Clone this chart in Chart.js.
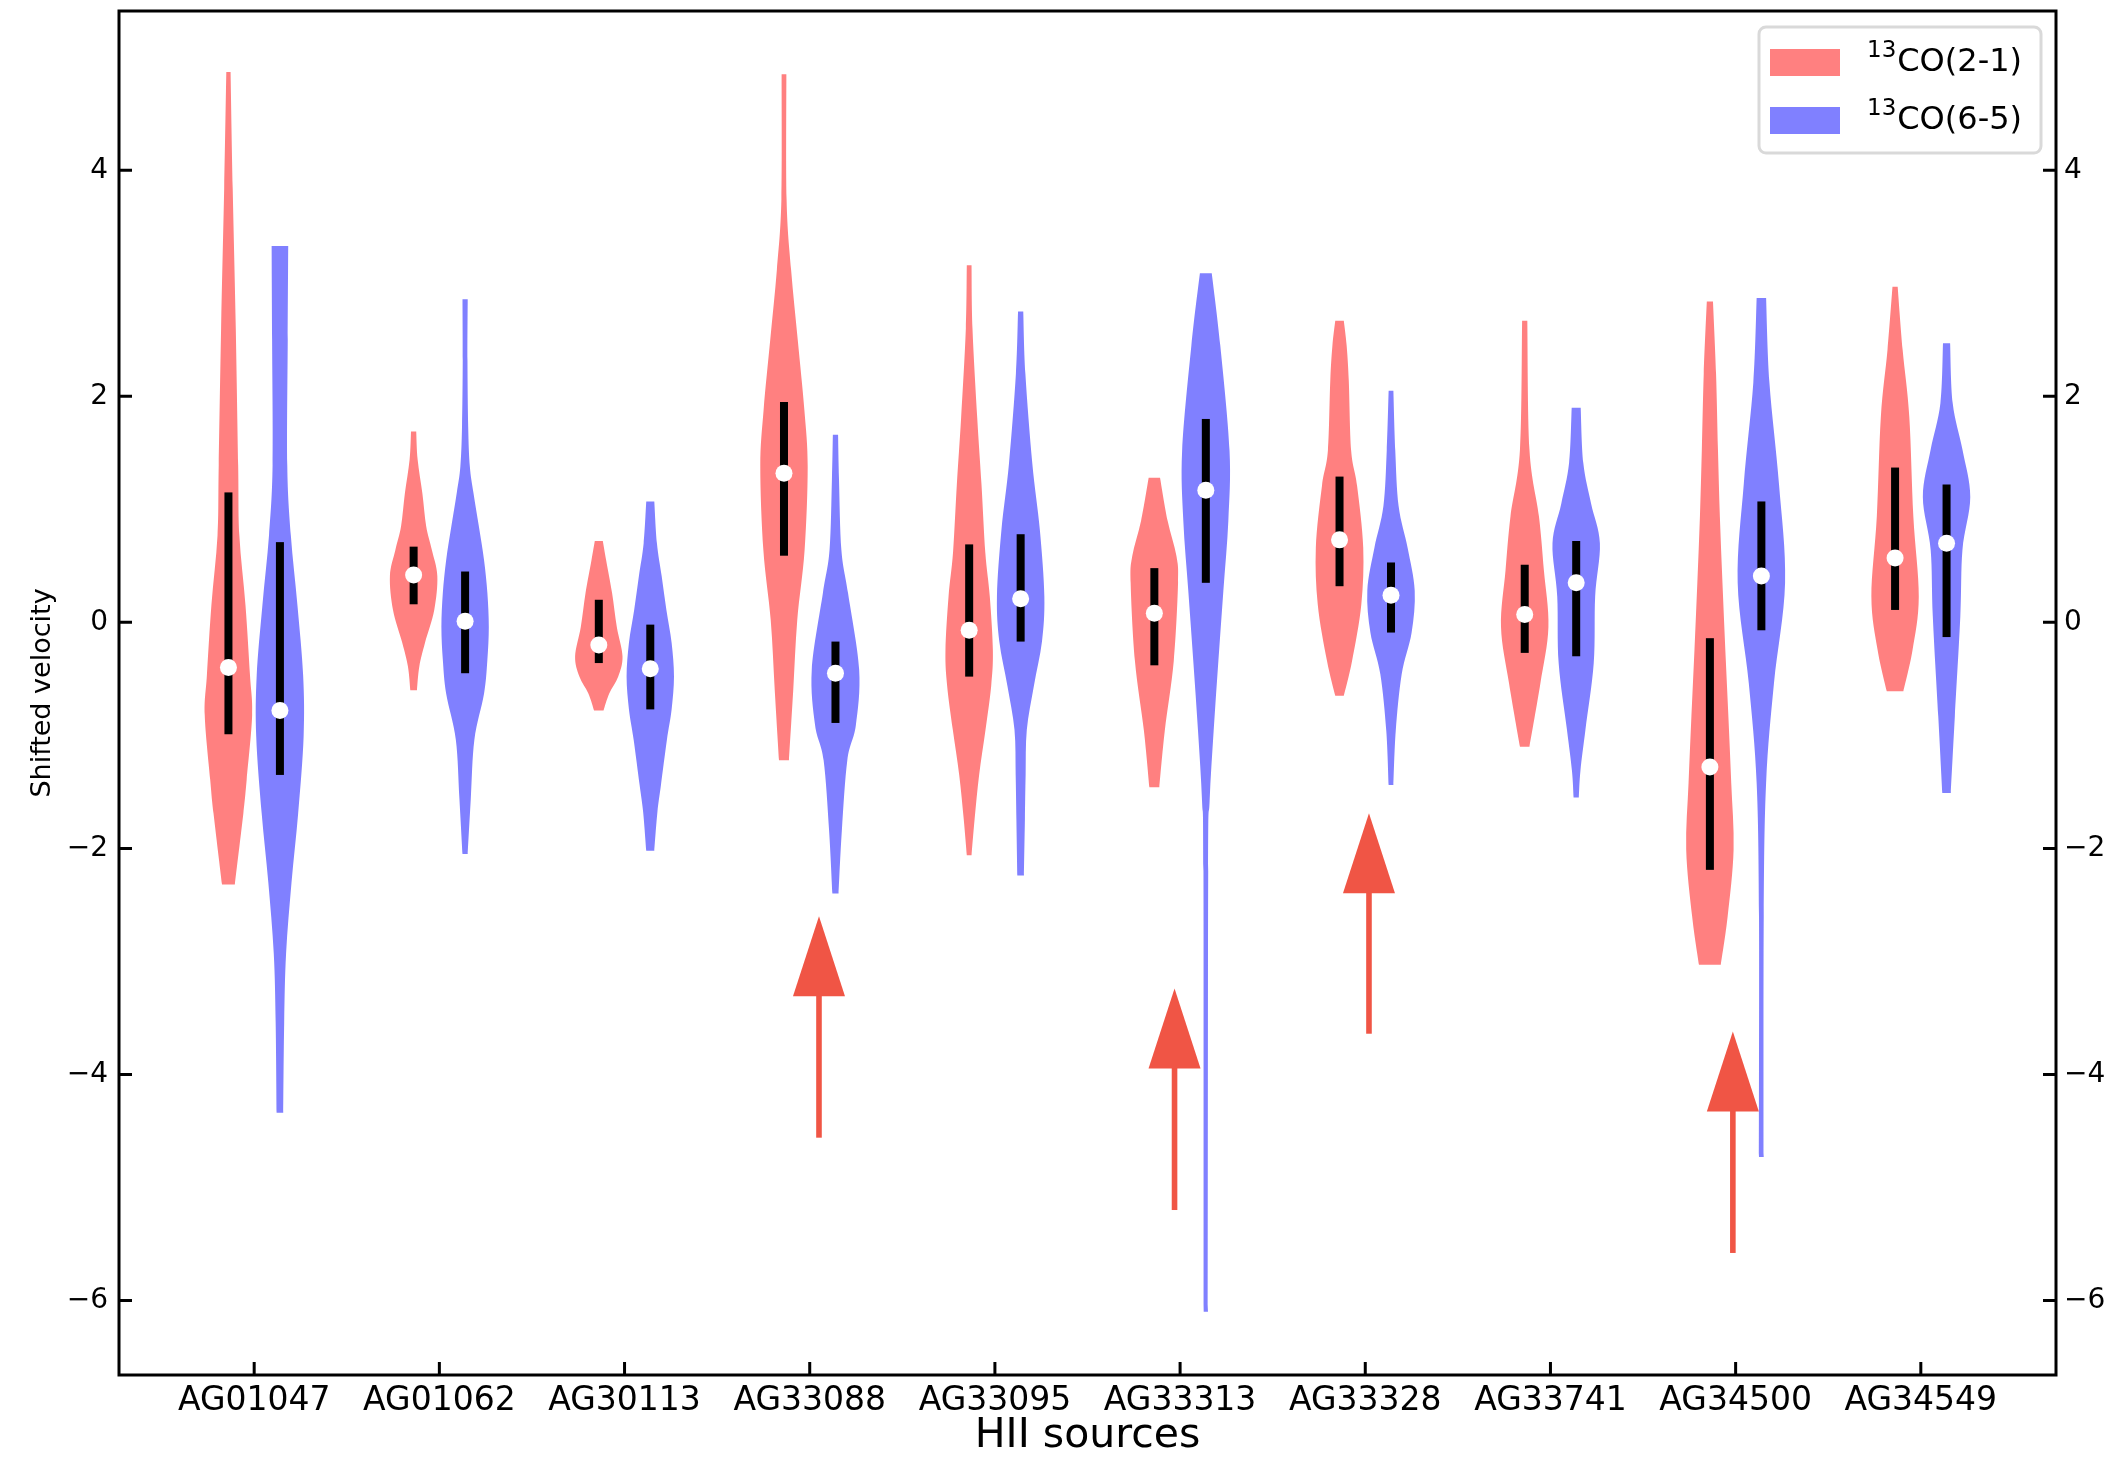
<!DOCTYPE html>
<html>
<head>
<meta charset="utf-8">
<script src="https://cdn.jsdelivr.net/npm/chart.js@4.4.1/dist/chart.umd.min.js"></script>
<style>
  html, body { margin: 0; padding: 0; background: #fff; }
</style>
</head>
<body>
<canvas id="myviolin" width="2122" height="1461"></canvas>
<script>
// categories and series
var sources = ['AG01047', 'AG01062', 'AG30113', 'AG33088', 'AG33095', 'AG33313', 'AG33328', 'AG33741', 'AG34500', 'AG34549']
var seriesIsotope = ['13', '13']
var seriesLines = ['CO(2-1)', 'CO(6-5)']
var yTicks = [-6, -4, -2, 0, 2, 4]

// violin outlines: [velocity, relative half width], bottom -> top
var co21_shape = [
    [[-2.32,0.27],[-1.69,0.63],[-1.39,0.77],[-0.82,1.0],[-0.47,0.91],[0.15,0.72],[0.77,0.46],[1.39,0.41],[2.6,0.31],[3.84,0.18],[4.87,0.09]],
    [[-0.60,0.14],[-0.39,0.24],[-0.18,0.48],[0.11,0.87],[0.41,1.0],[0.64,0.77],[0.85,0.53],[1.14,0.37],[1.44,0.17],[1.69,0.11]],
    [[-0.78,0.2],[-0.63,0.44],[-0.48,0.82],[-0.30,1.0],[-0.04,0.76],[0.26,0.56],[0.55,0.31],[0.72,0.17]],
    [[-1.22,0.21],[-0.60,0.39],[0.02,0.56],[0.64,0.87],[1.38,1.0],[1.88,0.86],[2.5,0.58],[3.12,0.30],[3.74,0.11],[4.85,0.1]],
    [[-2.06,0.1],[-1.74,0.23],[-1.35,0.42],[-0.95,0.69],[-0.56,0.93],[-0.25,1.0],[0.23,0.87],[0.62,0.68],[1.22,0.52],[1.81,0.34],[2.6,0.14],[3.16,0.1]],
    [[-1.46,0.21],[-0.96,0.44],[-0.34,0.82],[0.35,1.0],[0.59,0.93],[0.90,0.56],[1.28,0.24]],
    [[-0.65,0.18],[-0.34,0.53],[0.16,0.92],[0.66,1.0],[1.21,0.74],[1.52,0.49],[2.14,0.39],[2.45,0.3],[2.67,0.18]],
    [[-1.10,0.2],[-0.54,0.66],[-0.04,1.0],[0.46,0.81],[0.94,0.6],[1.53,0.2],[2.67,0.11]],
    [[-3.03,0.46],[-2.6,0.75],[-2.01,1.0],[-1.42,0.9],[-0.83,0.78],[-0.24,0.65],[0.35,0.53],[0.94,0.42],[1.53,0.34],[2.2,0.26],[2.84,0.13]],
    [[-0.61,0.35],[-0.24,0.74],[0.23,1.0],[0.94,0.77],[1.82,0.6],[2.41,0.32],[2.97,0.11]]
]
var co65_shape = [
    [[-4.34,0.14],[-3.54,0.18],[-2.93,0.26],[-2.3,0.49],[-1.69,0.77],[-1.01,1.0],[-0.47,0.98],[0.15,0.74],[0.77,0.46],[1.39,0.31],[2.5,0.33],[3.33,0.35]],
    [[-2.05,0.11],[-1.56,0.24],[-1.04,0.39],[-0.63,0.8],[-0.33,0.94],[-0.04,1.0],[0.26,0.94],[0.55,0.8],[0.85,0.58],[1.15,0.35],[1.38,0.2],[1.73,0.13],[2.32,0.1],[2.86,0.11]],
    [[-2.02,0.17],[-1.68,0.3],[-1.44,0.45],[-1.04,0.7],[-0.77,0.9],[-0.48,1.0],[-0.18,0.9],[0.11,0.68],[0.41,0.48],[0.70,0.28],[1.07,0.17]],
    [[-2.40,0.13],[-1.84,0.27],[-1.22,0.5],[-0.91,0.86],[-0.42,1.0],[0.26,0.53],[0.64,0.25],[1.26,0.15],[1.66,0.11]],
    [[-2.24,0.14],[-1.74,0.18],[-1.35,0.21],[-0.95,0.26],[-0.56,0.56],[-0.17,0.9],[0.23,1.0],[0.82,0.81],[1.41,0.49],[2.2,0.2],[2.75,0.11]],
    [[-6.1,0.09],[-2.2,0.1],[-1.58,0.16],[-0.96,0.33],[-0.34,0.53],[0.28,0.74],[0.90,0.95],[1.52,1.0],[2.45,0.61],[3.09,0.25]],
    [[-1.44,0.1],[-0.96,0.2],[-0.46,0.45],[-0.09,0.87],[0.28,1.0],[0.66,0.7],[1.03,0.32],[1.52,0.18],[2.05,0.1]],
    [[-1.55,0.11],[-1.31,0.18],[-0.95,0.39],[-0.36,0.74],[0.23,0.8],[0.70,1.0],[1.05,0.63],[1.41,0.3],[1.90,0.19]],
    [[-4.73,0.1],[-2.6,0.1],[-1.42,0.2],[-0.54,0.53],[0.35,1.0],[1.23,0.74],[2.12,0.34],[2.87,0.2]],
    [[-1.51,0.18],[-0.83,0.35],[0.05,0.58],[0.64,0.67],[1.11,1.0],[1.53,0.67],[1.94,0.26],[2.47,0.15]]
]

// quartiles and medians
var co21_q1     = [-0.99, 0.16, -0.36, 0.59, -0.48, -0.38, 0.32, -0.27, -2.19, 0.11]
var co21_median = [-0.40, 0.42, -0.20, 1.32, -0.07, 0.08, 0.73, 0.07, -1.28, 0.57]
var co21_q3     = [1.15, 0.67, 0.20, 1.95, 0.69, 0.48, 1.29, 0.51, -0.14, 1.37]
var co65_q1     = [-1.35, -0.45, -0.77, -0.89, -0.17, 0.35, -0.09, -0.30, -0.07, -0.13]
var co65_median = [-0.78, 0.01, -0.41, -0.45, 0.21, 1.17, 0.24, 0.35, 0.41, 0.70]
var co65_q3     = [0.71, 0.45, -0.02, -0.17, 0.78, 1.80, 0.53, 0.72, 1.07, 1.22]

// arrows: x position (category units), tip and tail velocity
var arrow_x    = [3.05, 4.97, 6.02, 7.985]
var arrow_tip  = [-2.60, -3.24, -1.69, -3.62]
var arrow_tail = [-4.56, -5.20, -3.64, -5.58]

var colors = ['#ff8080', '#8080ff']
var arrowColor = '#f05545'
var dodge = 0.139
var halfWidth = 0.128

function smoothSide(ctx, pts) {
    // catmull-rom through pts, current point is pts[0]
    for (var i = 0; i < pts.length - 1; i++) {
        var p0 = pts[Math.max(i - 1, 0)], p1 = pts[i], p2 = pts[i + 1], p3 = pts[Math.min(i + 2, pts.length - 1)]
        ctx.bezierCurveTo(
            p1[0] + (p2[0] - p0[0]) / 6, p1[1] + (p2[1] - p0[1]) / 6,
            p2[0] - (p3[0] - p1[0]) / 6, p2[1] - (p3[1] - p1[1]) / 6,
            p2[0], p2[1])
    }
}

function drawViolin(chart, center, shape, color, q1, med, q3) {
    var ctx = chart.ctx, x = chart.scales.x, y = chart.scales.y
    var right = shape.map(p => [x.getPixelForValue(center + p[1] * halfWidth), y.getPixelForValue(p[0])])
    var left = shape.map(p => [x.getPixelForValue(center - p[1] * halfWidth), y.getPixelForValue(p[0])]).reverse()
    ctx.beginPath()
    ctx.moveTo(left[left.length - 1][0], left[left.length - 1][1])
    ctx.lineTo(right[0][0], right[0][1])
    smoothSide(ctx, right)
    ctx.lineTo(left[0][0], left[0][1])
    smoothSide(ctx, left)
    ctx.closePath()
    ctx.fillStyle = color
    ctx.fill()

    var cx = x.getPixelForValue(center)
    ctx.fillStyle = '#000'
    ctx.fillRect(cx - 4, y.getPixelForValue(q3), 8, y.getPixelForValue(q1) - y.getPixelForValue(q3))
    ctx.beginPath()
    ctx.arc(cx, y.getPixelForValue(med), 8.5, 0, Math.PI * 2)
    ctx.fillStyle = '#fff'
    ctx.fill()
}

var violinPlugin = {
    id: 'violins',
    afterDraw: (chart) => {
        var ctx = chart.ctx, area = chart.chartArea, x = chart.scales.x, y = chart.scales.y
        ctx.save()
        ctx.beginPath()
        ctx.rect(area.left, area.top, area.right - area.left, area.bottom - area.top)
        ctx.clip()

        for (var i = 0; i < sources.length; i++) {
            drawViolin(chart, i - dodge, co21_shape[i], colors[0], co21_q1[i], co21_median[i], co21_q3[i])
            drawViolin(chart, i + dodge, co65_shape[i], colors[1], co65_q1[i], co65_median[i], co65_q3[i])
        }

        // arrows
        ctx.fillStyle = arrowColor
        for (var k = 0; k < arrow_x.length; k++) {
            var ax = x.getPixelForValue(arrow_x[k])
            var tip = y.getPixelForValue(arrow_tip[k])
            var tail = y.getPixelForValue(arrow_tail[k])
            ctx.fillRect(ax - 2.8, tip + 70, 5.6, tail - tip - 70)
            ctx.beginPath()
            ctx.moveTo(ax, tip)
            ctx.lineTo(ax + 26, tip + 80)
            ctx.lineTo(ax - 26, tip + 80)
            ctx.closePath()
            ctx.fill()
        }
        ctx.restore()

        // frame and inward ticks
        ctx.save()
        ctx.strokeStyle = '#000'
        ctx.lineWidth = 3
        ctx.strokeRect(area.left, area.top, area.right - area.left, area.bottom - area.top)
        ctx.beginPath()
        yTicks.forEach(v => {
            var py = y.getPixelForValue(v)
            ctx.moveTo(area.left, py); ctx.lineTo(area.left + 13, py)
            ctx.moveTo(area.right, py); ctx.lineTo(area.right - 13, py)
        })
        sources.forEach((s, i) => {
            var px = x.getPixelForValue(i)
            ctx.moveTo(px, area.bottom); ctx.lineTo(px, area.bottom - 13)
        })
        ctx.stroke()

        // legend
        var lx = area.right - 297, ly = area.top + 16, lw = 282, lh = 126
        ctx.beginPath()
        ctx.roundRect(lx, ly, lw, lh, 7)
        ctx.fillStyle = 'rgba(255,255,255,0.8)'
        ctx.fill()
        ctx.strokeStyle = '#d9d9d9'
        ctx.lineWidth = 3
        ctx.stroke()
        ctx.textBaseline = 'middle'
        ctx.textAlign = 'left'
        seriesLines.forEach((name, j) => {
            var cy = ly + 35 + j * 58
            ctx.fillStyle = colors[j]
            ctx.fillRect(lx + 11, cy - 13, 70, 27)
            ctx.fillStyle = '#000'
            ctx.font = '23px "DejaVu Sans"'
            ctx.fillText(seriesIsotope[j], lx + 108, cy - 11)
            var sw = ctx.measureText(seriesIsotope[j]).width
            ctx.font = '32px "DejaVu Sans"'
            ctx.fillText(name, lx + 108 + sw + 1, cy + 1)
        })
        ctx.restore()
    }
}

var minus = v => String(v).replace('-', '\u2212')
var noPad = s => { s.paddingTop = 0; s.paddingBottom = 0; s.paddingLeft = 0; s.paddingRight = 0 }

var myviolin = new Chart(document.getElementById('myviolin'), {
    type: 'scatter',
    data: {
        datasets: [
            { label: seriesIsotope[0] + seriesLines[0], data: [], backgroundColor: colors[0] },
            { label: seriesIsotope[1] + seriesLines[1], data: [], backgroundColor: colors[1] }
        ]
    },
    options: {
        responsive: false,
        devicePixelRatio: 1,
        animation: false,
        layout: { padding: { top: 11, left: 0, right: 0, bottom: 0 } },
        plugins: { legend: { display: false }, tooltip: { enabled: false } },
        scales: {
            x: {
                type: 'linear', position: 'bottom', min: -0.73, max: 9.73,
                afterBuildTicks: s => { s.ticks = sources.map((n, i) => ({ value: i })) },
                afterFit: s => { s.height = 86; noPad(s) },
                grid: { display: false, drawTicks: false },
                border: { display: false },
                ticks: {
                    padding: 7, color: '#000', autoSkip: false, maxRotation: 0,
                    font: { family: 'DejaVu Sans', size: 33 },
                    callback: v => sources[v]
                },
                title: {
                    display: true, text: 'HII sources', color: '#000',
                    font: { family: 'DejaVu Sans', size: 41 }, padding: { top: 0, bottom: 0 }
                }
            },
            y: {
                type: 'linear', position: 'left', min: -6.66, max: 5.41,
                afterBuildTicks: s => { s.ticks = yTicks.map(v => ({ value: v })) },
                afterFit: s => { s.width = 119; noPad(s) },
                grid: { display: false, drawTicks: false },
                border: { display: false },
                ticks: { padding: 11, color: '#000', font: { family: 'DejaVu Sans', size: 28 }, callback: minus },
                title: {
                    display: true, text: 'Shifted velocity', color: '#000',
                    font: { family: 'DejaVu Sans', size: 27 }, padding: { top: 27, bottom: 0 }
                }
            },
            y2: {
                type: 'linear', position: 'right', min: -6.66, max: 5.41,
                afterBuildTicks: s => { s.ticks = yTicks.map(v => ({ value: v })) },
                afterFit: s => { s.width = 66; noPad(s) },
                grid: { display: false, drawTicks: false },
                border: { display: false },
                ticks: { padding: 8, color: '#000', font: { family: 'DejaVu Sans', size: 28 }, callback: minus }
            }
        }
    },
    plugins: [violinPlugin]
})
</script>
</body>
</html>
